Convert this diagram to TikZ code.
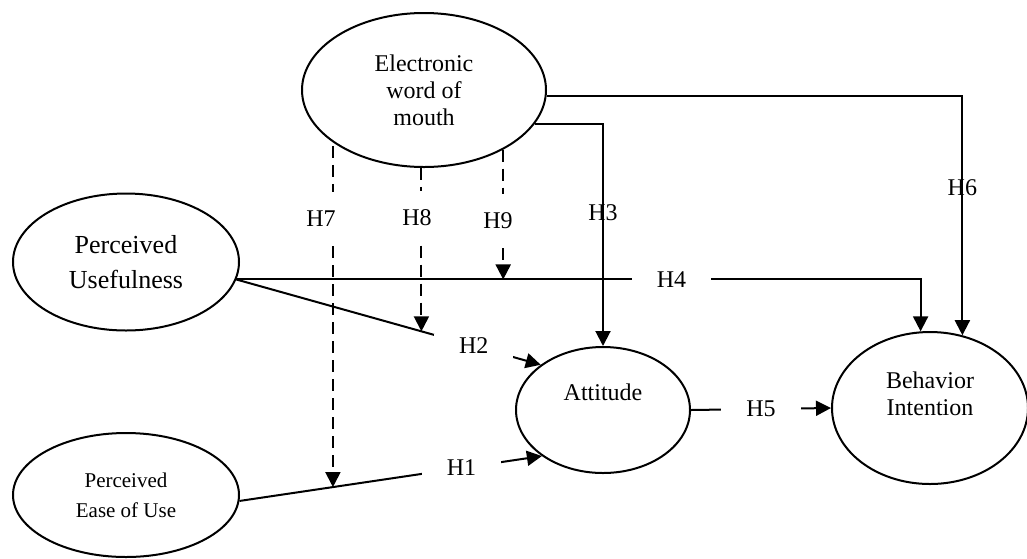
\documentclass[tikz,border=0pt]{standalone}
\usepackage{fontspec}
\setmainfont{Liberation Serif}
\usetikzlibrary{shapes.geometric, arrows.meta, positioning, calc}

\begin{document}
\begin{tikzpicture}[x=0.5pt, y=-0.5pt,
  cons/.style={ellipse, draw, line width=1pt, inner sep=0pt, align=center},
  hlab/.style={font=\fontsize{12}{14}\selectfont, inner sep=0pt},
  gaplab/.style={hlab, fill=white, inner xsep=12.5pt, inner ysep=2pt},
  modlab/.style={hlab, inner ysep=9.5pt},
  link/.style={line width=1pt, -{Triangle[length=7.5pt, width=7.5pt]}},
  modlink/.style={line width=1pt, dash pattern=on 6pt off 3.5pt}]
  \useasboundingbox (0,0) rectangle (1027,558);

  % constructs
  \node[cons, minimum width=122pt, minimum height=77pt, font=\fontsize{12}{13.5}\selectfont] (ewom) at (424,90) {Electronic\\word of\\mouth};
  \node[cons, minimum width=113pt, minimum height=68.5pt, font=\fontsize{13}{17.5}\selectfont] (pu) at (126,262) {Perceived\\Usefulness};
  \node[cons, minimum width=113pt, minimum height=62pt, font=\fontsize{10.5}{15}\selectfont] (peou) at (126,495) {Perceived\\Ease of Use};
  \node[cons, minimum width=87pt, minimum height=63pt] (att) at (603,410) {};
  \node[font=\fontsize{12}{14}\selectfont] (att-t) at ($(att)+(0,-18)$) {Attitude};
  \node[cons, minimum width=98pt, minimum height=76pt] (bi) at (930,408) {};
  \node[font=\fontsize{12}{13.5}\selectfont, align=center] (bi-t) at ($(bi)+(0,-14)$) {Behavior\\Intention};

  % direct paths
  \draw[link] (peou.-3) -- node[gaplab, pos=0.734] (h1) {H1} (att.217.5);
  \draw[link] (pu.-9) -- node[gaplab, pos=0.78] (h2) {H2} (att.144.5);
  \coordinate (h4c) at (pu.-9 -| bi.97);
  \draw[link] (pu.-9) -- node[gaplab, pos=0.636] (h4) {H4} (h4c) -- (bi.97);
  \draw[link] (ewom.-17) -| node[hlab, pos=0.7] (h3) {H3} (att.north);
  \draw[link] (ewom.-3) -| node[hlab, pos=0.69] (h6) {H6} (bi.66);
  \draw[link] (att.east) -- node[gaplab] (h5) {H5} (bi.west);

  % moderating paths
  \coordinate (t7) at ($(peou.-3)!0.309!(att.217.5)$);
  \coordinate (t8) at ($(pu.-9)!0.608!(att.144.5)$);
  \coordinate (t9) at ($(pu.-9)!0.39!(h4c)$);
  \node[modlab] (h7) at (321,219) {H7};
  \node[modlab] (h8) at (417,218) {H8};
  \node[modlab] (h9) at (498,221) {H9};
  \draw[modlink] (t7 |- ewom.-147) -- (t7 |- h7.north);
  \draw[modlink, -{Triangle[length=7.5pt, width=7.5pt]}] (t7 |- h7.south) -- (t7);
  \draw[modlink] (t8 |- ewom.-92) -- (t8 |- h8.north);
  \draw[modlink, -{Triangle[length=7.5pt, width=7.5pt]}] (t8 |- h8.south) -- (t8);
  \draw[modlink] (t9 |- ewom.-37) -- (t9 |- h9.north);
  \draw[modlink, -{Triangle[length=7.5pt, width=7.5pt]}] (t9 |- h9.south) -- (t9);
\end{tikzpicture}
\end{document}
